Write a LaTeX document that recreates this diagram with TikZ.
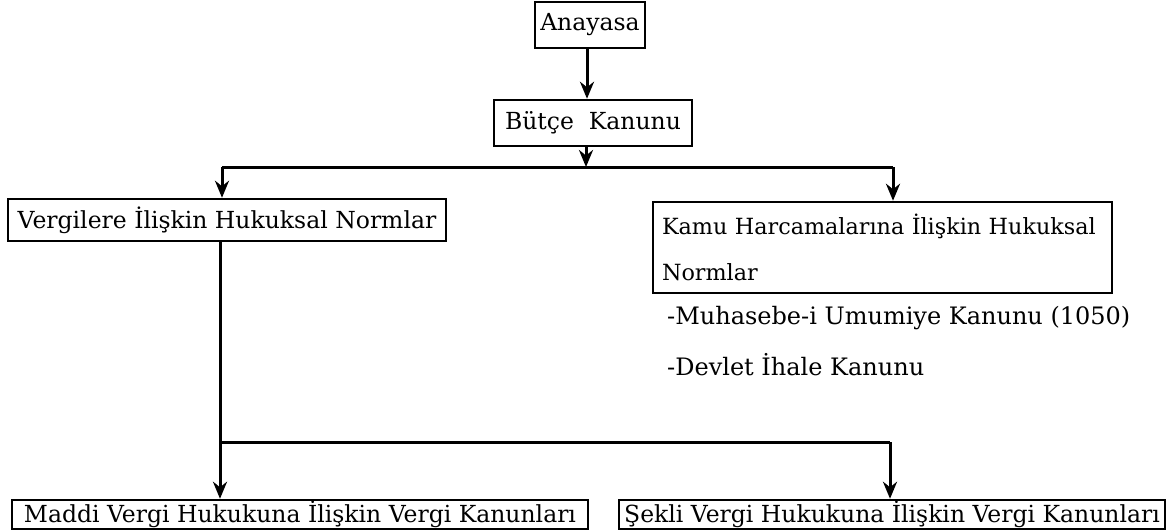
\documentclass[tikz,border=0pt]{standalone}
\usepackage{fontspec}
\setmainfont{DejaVu Serif}
\usetikzlibrary{arrows.meta}
\begin{document}
\begin{tikzpicture}[x=1pt,y=-1pt,
  box/.style={draw,line width=2.5pt,inner sep=0pt,font=\fontsize{23.5}{28}\selectfont},
  lbl/.style={inner sep=0pt,anchor=west,font=\fontsize{24}{28}\selectfont},
  wire/.style={line width=3pt},
  conn/.style={line width=3pt,-{Stealth[length=17pt,width=14pt]}}]
\useasboundingbox (0,0) rectangle (1167,531);
\node[box,minimum width=110pt,minimum height=46pt] (ana) at (590,25) {Anayasa};
\node[box,minimum width=198pt,minimum height=46pt] (but) at (593,123) {Bütçe\ \ Kanunu};
\node[box,minimum width=438pt,minimum height=42pt] (verg) at (227,220) {Vergilere İlişkin Hukuksal Normlar};
\node[box,minimum width=459pt,minimum height=91pt,text width=441pt,align=left,
  font=\fontsize{22.3}{46}\selectfont] (kamu) at (882.5,247.5) {Kamu Harcamalarına İlişkin Hukuksal\\Normlar};
\node[lbl] (muh) at (667,318) {-Muhasebe-i Umumiye Kanunu (1050)};
\node[lbl] (dev) at (667,365) {-Devlet İhale Kanunu};
\node[box,minimum width=576pt,minimum height=29pt] (mad) at (300,514.5) {Maddi Vergi Hukukuna İlişkin Vergi Kanunları};
\node[box,minimum width=546pt,minimum height=29pt] (sek) at (892,514.5) {Şekli Vergi Hukukuna İlişkin Vergi Kanunları};
\coordinate (top) at (587,0);
\coordinate (j1) at (586,167);
\coordinate (kl) at (222,167);
\coordinate (kr) at (893,167);
\coordinate (j2) at (220,442);
\coordinate (sr) at (890,442);
\draw[conn] (ana.south -| top) -- (but.north -| top);
\draw[conn] (but.south -| j1) -- (j1);
\draw[wire] (kl) -- (kr);
\draw[conn] (kl) -- (kl |- verg.north);
\draw[conn] (kr) -- (kr |- kamu.north);
\draw[conn] (verg.south -| j2) -- (j2 |- mad.north);
\draw[wire] (j2) -- (sr);
\draw[conn] (sr) -- (sr |- sek.north);
\end{tikzpicture}
\end{document}
